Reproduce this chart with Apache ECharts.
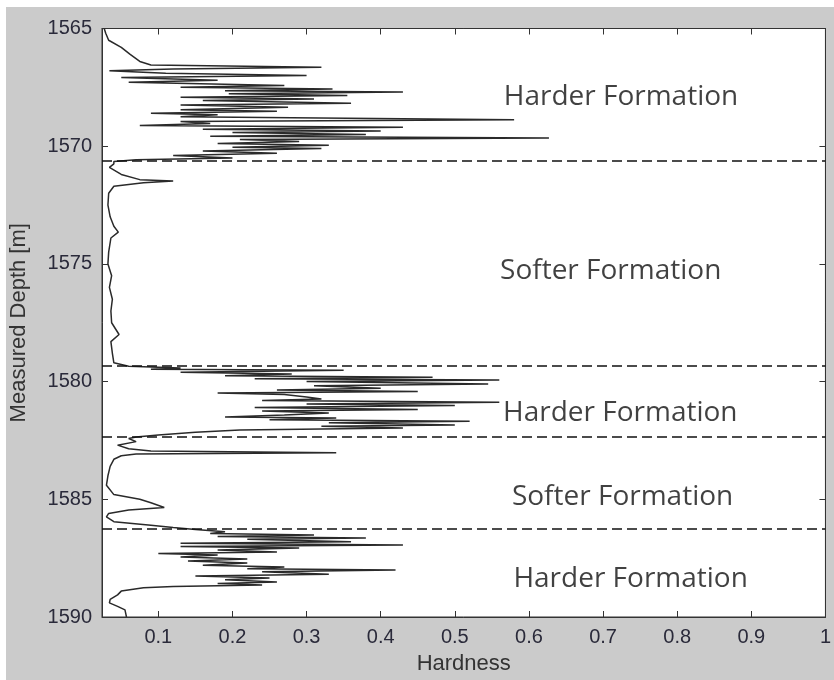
<!DOCTYPE html>
<html>
<head>
<meta charset="utf-8">
<script src="https://cdn.jsdelivr.net/npm/echarts@6.0.0/dist/echarts.min.js"></script>
<style>
  html, body { margin: 0; padding: 0; background: #fff; }
  #chart { width: 834px; height: 680px; }
</style>
</head>
<body>
<div id="chart"></div>
<script>
const depth = [
  1565.0, 1565.2, 1565.5, 1565.8, 1566.1, 1566.4, 1566.55, 1566.65, 1566.72, 1566.8,
  1566.9, 1567.0, 1567.08, 1567.2, 1567.28, 1567.42, 1567.5, 1567.57, 1567.64, 1567.7,
  1567.77, 1567.85, 1567.92, 1568.0, 1568.06, 1568.18, 1568.25, 1568.35, 1568.45, 1568.52,
  1568.6, 1568.66, 1568.75, 1568.88, 1568.95, 1569.04, 1569.12, 1569.2, 1569.28, 1569.35,
  1569.42, 1569.5, 1569.58, 1569.65, 1569.72, 1569.8, 1569.88, 1569.96, 1570.04, 1570.1,
  1570.2, 1570.3, 1570.4, 1570.5, 1570.58, 1570.65,
  1570.75, 1570.9, 1571.2, 1571.42, 1571.48, 1571.55, 1571.7, 1572.0, 1572.5, 1573.0,
  1573.4, 1573.65, 1573.9, 1574.5, 1575.0, 1575.5, 1576.0, 1576.5, 1577.0, 1577.5,
  1578.0, 1578.3, 1578.8, 1579.2,
  1579.35, 1579.42, 1579.48, 1579.52, 1579.6, 1579.68, 1579.75, 1579.82, 1579.88, 1579.93,
  1580.0, 1580.1, 1580.18, 1580.28, 1580.36, 1580.42, 1580.48, 1580.55, 1580.65, 1580.74,
  1580.8, 1580.88, 1580.95, 1581.02, 1581.1, 1581.18, 1581.25, 1581.33, 1581.42, 1581.5,
  1581.55, 1581.62, 1581.68, 1581.75, 1581.84, 1581.9, 1581.97, 1582.06, 1582.15, 1582.27,
  1582.35,
  1582.42, 1582.55, 1582.7, 1582.85, 1582.95, 1583.02, 1583.08, 1583.15, 1583.3, 1583.6,
  1584.0, 1584.4, 1584.8, 1585.0, 1585.15, 1585.35, 1585.45, 1585.6, 1585.75, 1585.95,
  1586.1, 1586.2,
  1586.28, 1586.38, 1586.45, 1586.52, 1586.58, 1586.64, 1586.7, 1586.8, 1586.87, 1586.94,
  1587.0, 1587.07, 1587.15, 1587.24, 1587.3, 1587.37, 1587.45, 1587.54, 1587.62, 1587.71,
  1587.8, 1587.88, 1587.95, 1588.0, 1588.08, 1588.18, 1588.26, 1588.34, 1588.42, 1588.51,
  1588.58, 1588.64, 1588.7, 1588.76, 1588.9, 1589.06, 1589.25, 1589.4, 1589.55, 1589.7,
  1589.85, 1590.0
]
const hardness = [
  0.027, 0.029, 0.033, 0.05, 0.062, 0.075, 0.09, 0.32, 0.12, 0.034,
  0.11, 0.30, 0.05, 0.18, 0.06, 0.27, 0.13, 0.335, 0.19, 0.43,
  0.195, 0.355, 0.13, 0.31, 0.16, 0.36, 0.13, 0.275, 0.13, 0.26,
  0.09, 0.18, 0.13, 0.58, 0.13, 0.17, 0.075, 0.43, 0.16, 0.40,
  0.20, 0.38, 0.17, 0.627, 0.21, 0.29, 0.18, 0.33, 0.20, 0.32,
  0.16, 0.26, 0.12, 0.20, 0.07, 0.04,
  0.04, 0.034, 0.05, 0.075, 0.12, 0.08, 0.04, 0.033, 0.032, 0.035,
  0.04, 0.046, 0.036, 0.033, 0.032, 0.037, 0.034, 0.038, 0.036, 0.037,
  0.047, 0.036, 0.038, 0.04,
  0.06, 0.13, 0.09, 0.35, 0.13, 0.28, 0.19, 0.47, 0.23, 0.56,
  0.30, 0.545, 0.31, 0.40, 0.26, 0.45, 0.18, 0.27, 0.30, 0.32,
  0.24, 0.56, 0.30, 0.50, 0.23, 0.45, 0.24, 0.33, 0.27, 0.19,
  0.34, 0.25, 0.52, 0.33, 0.50, 0.32, 0.43, 0.21, 0.15, 0.10,
  0.07,
  0.06, 0.07, 0.045, 0.06, 0.09, 0.34, 0.07, 0.05, 0.04, 0.035,
  0.032, 0.03, 0.04, 0.075, 0.09, 0.108, 0.06, 0.033, 0.03, 0.04,
  0.09, 0.12,
  0.15, 0.19, 0.17, 0.31, 0.18, 0.38, 0.22, 0.36, 0.13, 0.43,
  0.13, 0.29, 0.18, 0.26, 0.10, 0.18, 0.13, 0.22, 0.14, 0.22,
  0.16, 0.27, 0.22, 0.42, 0.24, 0.33, 0.15, 0.25, 0.19, 0.26,
  0.18, 0.24, 0.12, 0.08, 0.05, 0.045, 0.035, 0.034, 0.045, 0.055,
  0.056, 0.057
]
// formation boundaries (dashed lines)
const boundaries = [1570.63, 1579.32, 1582.34, 1586.23]
// formation labels: text, hardness of left edge, depth of centre
const zoneNames = ['Harder Formation', 'Softer Formation', 'Harder Formation', 'Softer Formation', 'Harder Formation']
const zoneX = [0.566, 0.561, 0.565, 0.577, 0.579]
const zoneY = [1567.92, 1575.3, 1581.33, 1584.9, 1588.38]
const xTicks = [0.1, 0.2, 0.3, 0.4, 0.5, 0.6, 0.7, 0.8, 0.9, 1]
const yTicks = [1565, 1570, 1575, 1580, 1585, 1590]

const tickFont = { fontFamily: 'Liberation Sans', fontSize: 20, color: '#2a2a3a' }
const titleFont = { fontFamily: 'Liberation Sans', fontSize: 22, color: '#333' }
const frame = { lineStyle: { color: '#333', width: 1 } }

const myChart = echarts.init(document.getElementById('chart'))
const option = {
  backgroundColor: '#cbcbcb',
  animation: false,
  graphic: [
    { type: 'rect', shape: { x: 0, y: 0, width: 834, height: 7 }, style: { fill: '#fff' }, silent: true },
    { type: 'rect', shape: { x: 0, y: 0, width: 6, height: 680 }, style: { fill: '#fff' }, silent: true }
  ],
  grid: {
    left: 100, right: 7, top: 28.5, bottom: 63,
    show: true, backgroundColor: '#fff', borderColor: '#333', borderWidth: 1
  },
  xAxis: [
    {
      type: 'value', min: 0.024, max: 1, position: 'bottom',
      name: 'Hardness', nameLocation: 'middle', nameGap: 36,
      nameTextStyle: titleFont,
      axisLine: { show: true, ...frame },
      axisTick: { show: true, inside: true, length: 6, customValues: xTicks, ...frame },
      axisLabel: { customValues: xTicks, margin: 10, ...tickFont },
      splitLine: { show: false }
    },
    {
      type: 'value', min: 0.024, max: 1, position: 'top',
      axisLine: { show: true, ...frame },
      axisTick: { show: true, inside: true, length: 6, customValues: xTicks, ...frame },
      axisLabel: { show: false },
      splitLine: { show: false }
    }
  ],
  yAxis: [
    {
      type: 'value', min: 1565, max: 1590, inverse: true, position: 'left',
      name: 'Measured Depth [m]', nameLocation: 'middle', nameGap: 72,
      nameTextStyle: titleFont,
      axisLine: { show: true, ...frame },
      axisTick: { show: true, inside: true, length: 6, customValues: yTicks, ...frame },
      axisLabel: { customValues: yTicks, margin: 10, formatter: v => String(v), ...tickFont },
      splitLine: { show: false }
    },
    {
      type: 'value', min: 1565, max: 1590, inverse: true, position: 'right',
      axisLine: { show: true, ...frame },
      axisTick: { show: true, inside: true, length: 6, customValues: yTicks, ...frame },
      axisLabel: { show: false },
      splitLine: { show: false }
    }
  ],
  series: [
    {
      type: 'line',
      data: depth.map((d, i) => [hardness[i], d]),
      showSymbol: false,
      symbol: 'none',
      lineStyle: { color: '#2a2a2a', width: 1.5 },
      markLine: {
        silent: true,
        symbol: 'none',
        label: { show: false },
        lineStyle: { color: '#111', width: 1.6, type: [10, 5] },
        data: boundaries.map(b => ({ yAxis: b }))
      }
    },
    {
      type: 'scatter',
      symbolSize: 0,
      data: zoneNames.map((n, i) => ({ name: n, value: [zoneX[i], zoneY[i]] })),
      label: {
        show: true,
        position: 'right',
        distance: 0,
        formatter: p => p.name,
        fontFamily: 'Open Sans',
        fontSize: 28,
        color: '#111'
      }
    }
  ]
}
option && myChart.setOption(option)
</script>
</body>
</html>
